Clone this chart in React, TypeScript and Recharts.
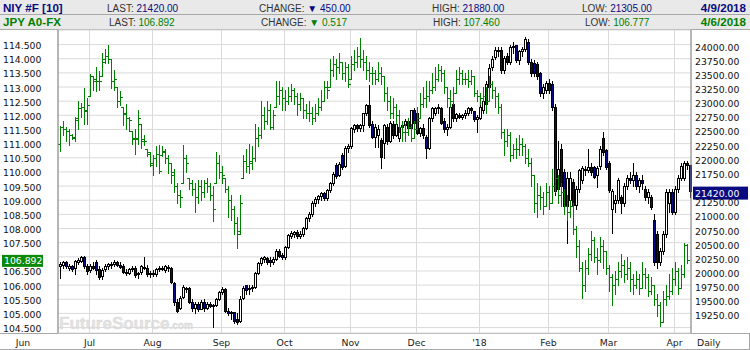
import { ComposedChart, Bar, XAxis, YAxis, CartesianGrid, ReferenceLine } from 'recharts'

// one bar per weekday, starting here
const firstDay = '2017-06-19'

// label under each month start (index = month - 1)
const monthLabels = ["'18", 'Feb', 'Mar', 'Apr', 'May', 'Jun', 'Jul', 'Aug', 'Sep', 'Oct', 'Nov', 'Dec']

const jpyTicks = [104.5, 105, 105.5, 106, 106.5, 107, 107.5, 108, 108.5, 109, 109.5, 110, 110.5, 111, 111.5, 112, 112.5, 113, 113.5, 114, 114.5]
const niyTicks = [19250, 19500, 19750, 20000, 20250, 20500, 20750, 21000, 21250, 21500, 21750, 22000, 22250, 22500, 22750, 23000, 23250, 23500, 23750, 24000]

// the two scales are tied: 0.5 yen == 250 index points
const jpyDomain = [104.308, 115.016]
const niyDomain = [18904, 24258]

const niyQuote = ['21420.00', '450.00', '21880.00', '21305.00', '4/9/2018']
const jpyQuote = ['106.892', '0.517', '107.460', '106.777', '4/6/2018']
const lastNiy = 21420
const lastJpy = 106.892

// JPY A0-FX daily bars: [open, high, low, close]
const jpyOhlc: (number[] | null)[] = [
  [111.0, 111.62, 110.75, 111.6], [111.6, 111.8, 111.3, 111.5], [111.5, 111.6, 111.1, 111.45], [111.45, 111.5, 110.95, 111.3], [111.3, 111.35, 111.15, 111.25],
  [111.2, 111.95, 111.1, 111.85], [111.9, 112.5, 111.5, 112.25], [112.25, 112.45, 111.95, 112.3], [112.3, 112.95, 111.7, 112.15], [112.2, 112.6, 111.7, 112.35],
  [112.7, 113.45, 112.7, 113.4], [113.4, 113.4, 112.9, 113.3], [113.2, 113.7, 112.85, 113.2], [113.2, 113.55, 112.9, 113.2], [113.4, 114.2, 113.4, 114.0],
  [113.9, 114.35, 113.85, 114.1], [114.1, 114.5, 113.85, 114.0], [114.0, 114.0, 112.95, 113.2], [113.2, 113.6, 112.9, 113.3], [113.0, 113.0, 112.3, 112.5],
  [112.5, 112.85, 112.35, 112.65], [112.3, 112.3, 111.65, 112.05], [112.1, 112.4, 111.5, 111.9], [111.9, 111.95, 111.45, 111.85], [111.45, 111.45, 111.0, 111.15],
  [111.2, 111.5, 110.65, 111.15], [111.2, 112.2, 111.0, 111.9], [111.7, 111.7, 110.85, 111.15], [111.1, 111.3, 110.95, 111.1], [110.8, 110.8, 110.55, 110.65],
  [110.7, 110.7, 110.2, 110.25], [110.3, 110.6, 109.9, 110.5], [110.5, 110.9, 110.2, 110.65], [110.65, 110.95, 109.95, 110.05], [110.6, 110.9, 110.55, 110.75],
  [110.7, 110.8, 110.3, 110.5], [110.5, 110.6, 109.95, 110.3], [110.3, 110.3, 109.6, 110.0], [109.9, 110.1, 109.3, 109.5], [109.5, 109.6, 108.9, 109.2],
  [109.2, 109.35, 108.75, 109.1], [109.6, 110.95, 109.6, 110.5], [110.5, 110.6, 110.0, 110.3], [109.8, 109.8, 109.4, 109.6], [109.6, 109.7, 109.2, 109.4],
  [109.4, 109.6, 108.6, 109.1], [109.1, 109.7, 108.9, 109.5], [109.5, 109.7, 109.0, 109.3], [109.3, 109.7, 109.1, 109.6], [109.6, 109.8, 109.3, 109.5],
  [109.5, 109.6, 109.0, 109.2], [109.2, 109.5, 108.25, 108.7], [109.6, 110.7, 109.6, 110.3], [110.3, 110.6, 109.8, 110.0], [110.0, 110.2, 109.6, 109.9],
  [109.8, 109.8, 109.3, 109.4], [109.4, 109.5, 108.4, 109.0], [109.0, 109.2, 108.3, 108.7], [108.7, 108.8, 107.8, 108.2], [108.2, 108.4, 107.3, 107.8],
  [107.9, 109.2, 107.8, 108.9], [109.8, 110.6, 109.8, 110.4], [110.4, 110.8, 110.0, 110.2], [110.2, 111.0, 109.95, 110.4], [110.3, 110.9, 110.1, 110.5],
  [110.5, 111.7, 110.4, 111.2], [111.2, 111.6, 110.9, 111.3], [111.3, 112.5, 111.2, 112.0], [112.0, 112.3, 111.5, 111.8], [111.8, 112.5, 111.7, 112.2],
  [112.2, 112.4, 111.5, 111.6], [111.6, 112.2, 111.5, 112.0], [112.3, 113.2, 112.3, 112.7], [112.7, 113.2, 112.4, 112.9], [112.9, 113.0, 112.2, 112.6],
  [112.6, 112.9, 112.2, 112.5], [112.5, 113.0, 112.4, 112.7], [112.7, 113.1, 112.5, 112.9], [112.9, 112.95, 112.4, 112.7], [112.7, 112.8, 112.0, 112.4],
  [112.4, 112.8, 112.2, 112.6], [112.6, 112.6, 111.9, 112.2], [112.2, 112.4, 111.9, 112.1], [112.1, 112.5, 111.8, 112.1], [112.1, 112.3, 111.7, 111.9],
  [111.9, 112.4, 111.8, 112.1], [112.1, 112.6, 112.0, 112.3], [112.3, 112.9, 112.2, 112.5], [112.5, 113.2, 112.5, 113.0], [113.0, 113.2, 112.6, 112.9],
  [113.0, 114.0, 113.0, 113.6], [113.6, 114.1, 113.4, 113.8], [113.8, 114.0, 113.3, 113.7], [113.7, 114.2, 113.5, 113.9], [113.9, 113.9, 113.3, 113.5],
  [113.5, 113.9, 113.2, 113.7], [113.7, 113.8, 113.0, 113.1], [113.3, 114.1, 113.3, 113.8], [113.8, 114.3, 113.6, 113.9], [113.9, 114.4, 113.7, 114.1],
  [114.1, 114.75, 113.7, 114.0], [114.0, 114.3, 113.6, 113.9], [113.9, 114.1, 113.3, 113.6], [113.6, 113.9, 113.2, 113.5], [113.5, 113.7, 113.1, 113.5],
  [113.5, 113.6, 113.1, 113.3], [113.3, 113.9, 113.2, 113.5], [113.5, 113.7, 113.1, 113.4], [113.4, 113.4, 112.5, 112.8], [112.8, 113.0, 112.2, 112.5],
  [112.5, 112.7, 111.9, 112.1], [112.1, 112.6, 111.9, 112.3], [112.3, 112.4, 111.7, 112.0], [112.0, 112.2, 111.4, 111.6], [111.6, 111.8, 111.1, 111.4],
  [111.4, 111.7, 111.1, 111.4], [111.4, 111.9, 111.3, 111.6], [111.6, 111.7, 111.1, 111.2], [111.2, 111.8, 111.2, 111.5], [111.5, 112.3, 111.5, 111.8],
  [111.9, 112.8, 111.9, 112.4], [112.4, 113.0, 112.3, 112.6], [112.6, 113.2, 112.3, 112.7], [112.7, 113.2, 112.5, 112.9], [112.9, 113.5, 112.8, 113.0],
  [113.0, 113.7, 112.9, 113.3], [113.3, 113.8, 113.2, 113.6], [113.6, 113.75, 113.2, 113.5], [113.5, 113.6, 112.8, 113.0], [113.0, 113.0, 112.3, 112.6],
  [112.6, 112.9, 112.3, 112.5], [112.5, 113.0, 112.4, 112.8], [112.8, 113.6, 112.8, 113.3], [113.3, 113.7, 113.1, 113.5], [113.5, 113.6, 113.1, 113.3],
  [113.3, 113.5, 113.1, 113.3], [113.3, 113.6, 113.0, 113.2], [113.2, 113.6, 113.1, 113.4], [113.4, 113.4, 112.7, 112.8], [112.8, 112.9, 112.5, 112.7],
  [112.7, 112.8, 112.4, 112.6], [112.6, 113.0, 112.5, 112.7], [112.7, 113.0, 112.1, 112.5], [112.5, 113.4, 112.5, 113.1], [113.1, 113.2, 112.6, 112.9],
  [112.9, 113.0, 112.3, 112.7], [112.7, 112.8, 112.1, 112.3], [112.3, 112.4, 111.2, 111.4], [111.4, 111.5, 110.6, 111.1], [111.1, 111.5, 110.9, 111.3],
  [111.3, 111.4, 110.4, 110.6], [110.6, 111.0, 110.5, 110.8], [110.8, 111.2, 110.5, 110.8], [110.8, 111.3, 110.6, 111.0], [111.0, 111.2, 110.6, 110.9],
  [110.9, 111.0, 110.3, 110.5], [110.5, 110.8, 110.2, 110.3], [110.3, 110.5, 109.5, 109.9], [109.9, 109.9, 108.6, 108.9], [108.9, 109.6, 108.4, 109.2],
  [109.2, 109.5, 108.7, 109.1], [109.1, 109.3, 108.5, 108.8], [108.8, 109.6, 108.8, 109.3], [109.3, 109.5, 108.7, 108.9], [108.9, 110.1, 108.9, 109.5],
  [109.5, 110.1, 109.3, 109.8], [109.8, 109.9, 108.9, 109.2], [109.2, 109.6, 108.8, 109.3], [109.3, 109.4, 108.5, 108.8], [108.8, 109.2, 108.3, 108.6],
  [108.6, 109.0, 108.4, 108.8], [108.8, 108.9, 107.8, 108.0], [108.0, 108.1, 107.0, 107.4], [107.4, 107.6, 106.5, 106.6], [106.6, 106.8, 105.55, 106.0],
  [106.0, 106.9, 105.8, 106.6], [106.6, 107.3, 106.4, 107.1], [107.1, 107.9, 106.9, 107.6], [107.6, 107.7, 106.8, 107.0], [107.0, 107.3, 106.4, 106.9],
  [106.9, 107.7, 106.8, 107.4], [107.4, 107.6, 106.6, 107.2], [107.2, 107.2, 106.4, 106.6], [106.6, 106.7, 105.8, 106.3], [106.3, 106.4, 105.3, 106.0],
  [106.0, 106.5, 105.7, 106.2], [106.2, 106.8, 106.0, 106.5], [106.5, 107.1, 106.3, 106.7], [106.7, 106.9, 106.1, 106.4], [106.4, 107.0, 106.2, 106.6],
  [106.6, 106.8, 105.8, 106.2], [106.2, 106.4, 105.7, 106.0], [106.0, 106.5, 105.9, 106.2], [106.2, 106.4, 105.7, 105.9], [105.9, 106.8, 105.9, 106.4],
  [106.4, 106.6, 105.9, 106.3], [106.3, 106.4, 105.6, 105.8], [105.8, 106.3, 105.7, 106.0], [106.0, 106.0, 105.3, 105.5], [105.5, 105.7, 104.9, 105.3],
  [105.3, 105.4, 104.55, 104.7], [104.7, 105.8, 104.7, 105.5], [105.5, 106.0, 105.3, 105.6], [105.6, 106.4, 105.5, 105.8], [105.8, 106.6, 105.7, 106.2],
  [106.2, 106.8, 106.0, 106.5], [106.5, 106.6, 105.7, 105.9], [105.9, 106.7, 105.9, 106.4], [106.4, 107.5, 106.3, 107.41], [107.41, 107.46, 106.777, 106.892],
  null,
]

// NIY #F daily candles: [open, high, low, close]
const niyOhlc: number[][] = [
  [20080, 20150, 19870, 20130], [20100, 20180, 20050, 20150], [20150, 20170, 20050, 20080], [20060, 20120, 20020, 20090], [20080, 20110, 20000, 20040],
  [20050, 20200, 19940, 20180], [20160, 20230, 20120, 20200], [20180, 20260, 20150, 20240], [20240, 20260, 20050, 20080], [20080, 20120, 19950, 20000],
  [20010, 20120, 19980, 20080], [20090, 20150, 20030, 20060], [20150, 20200, 19950, 20020], [20030, 20080, 19850, 19900], [19920, 20050, 19850, 20020],
  [20030, 20120, 20000, 20090], [20080, 20140, 20040, 20120], [20110, 20160, 20060, 20130], [20130, 20200, 20090, 20160], [20150, 20180, 20080, 20110],
  [20110, 20150, 20050, 20070], [20090, 20120, 19960, 19990], [19990, 20030, 19930, 19960], [19970, 20060, 19940, 20040], [20040, 20090, 20000, 20060],
  [20050, 20080, 19900, 19930], [19940, 19990, 19880, 19960], [19980, 20110, 19950, 20080], [20070, 20250, 20040, 20060], [20050, 20100, 19920, 19950],
  [19960, 20000, 19900, 19970], [19970, 20020, 19920, 19940], [19950, 20060, 19920, 20040], [20040, 20080, 20000, 20060], [20050, 20090, 20010, 20030],
  [20020, 20110, 19990, 20080], [20070, 20100, 20000, 20050], [20050, 20070, 19780, 19800], [19780, 19800, 19400, 19450], [19450, 19500, 19270, 19300],
  [19350, 19550, 19330, 19520], [19540, 19750, 19520, 19720], [19700, 19720, 19620, 19680], [19700, 19710, 19430, 19450], [19450, 19500, 19300, 19350],
  [19350, 19450, 19260, 19420], [19420, 19450, 19300, 19330], [19330, 19480, 19320, 19460], [19460, 19500, 19300, 19350], [19350, 19450, 19330, 19420],
  [19420, 19450, 19360, 19380], [19380, 19420, 19010, 19400], [19400, 19520, 19380, 19500], [19500, 19650, 19480, 19620], [19620, 19720, 19600, 19680],
  [19690, 19700, 19280, 19300], [19300, 19340, 19220, 19250], [19250, 19300, 19150, 19270], [19270, 19280, 19080, 19120], [19150, 19250, 19060, 19100],
  [19120, 19550, 19100, 19500], [19520, 19730, 19500, 19700], [19750, 19760, 19600, 19660], [19680, 19760, 19590, 19700], [19700, 19750, 19650, 19720],
  [19720, 19980, 19700, 19960], [19960, 20150, 19940, 20140], [20140, 20250, 20100, 20230], [20220, 20260, 20150, 20240], [20230, 20250, 20130, 20150],
  [20200, 20240, 20080, 20150], [20160, 20250, 20120, 20220], [20220, 20380, 20190, 20360], [20360, 20380, 20250, 20260], [20280, 20320, 20220, 20250],
  [20250, 20450, 20220, 20420], [20420, 20650, 20400, 20630], [20620, 20700, 20580, 20670], [20660, 20700, 20600, 20680], [20690, 20720, 20580, 20610],
  [20610, 20700, 20580, 20660], [20660, 20780, 20620, 20760], [20760, 20950, 20740, 20930], [20930, 21050, 20880, 21000], [21000, 21230, 20980, 21200],
  [21200, 21310, 21150, 21280], [21280, 21350, 21200, 21330], [21330, 21400, 21250, 21380], [21380, 21400, 21250, 21290], [21290, 21450, 21260, 21430],
  [21430, 21580, 21400, 21550], [21550, 21750, 21520, 21720], [21870, 21900, 21650, 21680], [21700, 21920, 21680, 21890], [22050, 22080, 21800, 21840],
  [21850, 22200, 21830, 22180], [22180, 22250, 22100, 22200], [22200, 22550, 22180, 22530], [22500, 22600, 22450, 22580], [22580, 22600, 22480, 22520],
  [22520, 22600, 22480, 22580], [22580, 22800, 22480, 22790], [22790, 22950, 22750, 22930], [22930, 23280, 22550, 22580], [22600, 22650, 22350, 22370],
  [22370, 22600, 22190, 22550], [22400, 22580, 22190, 22500], [22310, 22350, 21820, 22010], [22260, 22600, 22000, 22580], [22550, 22600, 22250, 22290],
  [22300, 22650, 22280, 22620], [22600, 22650, 22350, 22400], [22400, 22650, 22380, 22600], [22350, 22600, 22300, 22550], [22550, 22620, 22450, 22580],
  [22580, 22680, 22520, 22650], [22650, 22700, 22480, 22520], [22520, 22850, 22500, 22840], [22840, 22880, 22580, 22610], [22790, 22820, 22420, 22440],
  [22440, 22550, 22380, 22530], [22530, 22600, 22350, 22400], [22370, 22400, 21990, 22170], [22170, 22720, 22150, 22700], [22700, 22900, 22650, 22880],
  [22800, 22900, 22750, 22880], [22880, 22950, 22800, 22900], [22880, 22900, 22600, 22620], [22650, 22700, 22450, 22500], [22500, 22600, 22400, 22550],
  [22550, 22950, 22520, 22900], [22950, 23000, 22650, 22700], [22700, 22800, 22650, 22780], [22750, 22800, 22700, 22720], [22720, 22780, 22680, 22750],
  [22750, 22850, 22700, 22800], [22800, 22900, 22750, 22880], [22880, 22900, 22800, 22850], [22820, 22830, 22650, 22680], [22680, 22750, 22450, 22720],
  [22700, 22950, 22680, 22900], [22850, 23050, 22800, 23000], [22950, 23350, 22900, 23300], [23250, 23650, 23200, 23580], [23600, 23800, 23550, 23750],
  [23780, 23950, 23750, 23900], [23900, 23960, 23800, 23880], [23900, 23950, 23500, 23550], [23560, 23800, 23500, 23760], [23800, 23850, 23650, 23700],
  [23700, 24000, 23650, 23950], [23950, 24050, 23850, 23980], [23990, 24000, 23700, 23730], [23730, 23900, 23650, 23880], [23880, 23950, 23800, 23920],
  [23920, 24130, 23880, 24100], [24050, 24100, 23650, 23700], [23700, 23750, 23450, 23500], [23680, 23720, 23450, 23500], [23650, 23700, 23400, 23450],
  [23500, 23520, 23100, 23150], [23150, 23300, 23060, 23250], [23200, 23350, 23150, 23320], [23320, 23400, 23150, 23200], [23300, 23350, 22850, 22900],
  [22900, 22950, 21350, 21420], [21450, 22300, 21400, 21800], [22150, 22250, 21450, 21500], [21750, 21800, 21000, 21150], [21150, 21750, 20500, 21650],
  [21250, 21750, 21200, 21650], [21580, 21620, 20870, 21170], [21170, 21500, 21100, 21450], [21450, 21800, 21400, 21780], [21600, 21850, 21550, 21820],
  [21800, 21850, 21700, 21780], [21780, 22150, 21750, 21830], [21830, 21900, 21700, 21750], [21830, 21850, 21640, 21660], [21700, 21850, 21480, 21820],
  [21850, 22200, 21800, 22150], [22350, 22450, 22050, 22100], [22130, 22150, 21800, 21830], [21900, 21950, 21400, 21430], [21100, 21450, 20670, 21420],
  [21200, 21350, 21050, 21250], [21250, 21650, 21200, 21600], [21300, 21350, 21020, 21200], [21200, 21550, 21150, 21500], [21500, 21700, 21450, 21650],
  [21650, 21750, 21550, 21600], [21600, 21910, 21500, 21700], [21700, 21750, 21450, 21500], [21500, 21650, 21400, 21600], [21600, 21700, 21450, 21550],
  [21450, 21500, 21250, 21300], [21300, 21450, 21200, 21400], [21300, 21350, 21100, 21130], [20900, 21000, 20100, 20150], [20650, 20700, 20050, 20150],
  [20150, 20400, 20100, 20350], [20350, 20700, 20300, 20650], [20650, 21450, 20600, 21400], [21200, 21450, 21050, 21400], [21400, 21450, 21000, 21050],
  [21050, 21500, 21000, 21450], [21450, 21700, 21400, 21650], [21650, 21900, 21600, 21850], [21650, 21950, 21600, 21900], [21900, 21950, 21800, 21870],
  [21870, 21880, 21305, 21420],
]

function weekdays(start: string, count: number) {
  const out: string[] = []
  const d = new Date(start + 'T00:00:00Z')
  while (out.length < count) {
    const wd = d.getUTCDay()
    if (wd !== 0 && wd !== 6) out.push(d.toISOString().slice(0, 10))
    d.setUTCDate(d.getUTCDate() + 1)
  }
  return out
}

const dates = weekdays(firstDay, niyOhlc.length)
const rows = dates.map((d, i) => ({ d, jpy: jpyOhlc[i] ?? null, niy: niyOhlc[i] }))
const monthStarts = dates.filter((d, i) => i > 0 && d.slice(5, 7) !== dates[i - 1].slice(5, 7))

const NAVY = '#0a0a80'
const GREEN = '#008000'
const AXIS_FONT = 'DejaVu Sans, Verdana, sans-serif'
const HEAD_FONT = 'Liberation Sans, Arial, sans-serif'

// pixel helpers for a range bar drawn from [low, high]
function barGeometry(props: any, bar: number[]) {
  const top = Math.min(props.y, props.y + props.height)
  const bottom = Math.max(props.y, props.y + props.height)
  const h = bar[1]
  const l = bar[2]
  const py = (v: number) => (h === l ? top : top + ((h - v) / (h - l)) * (bottom - top))
  const px = Math.floor(props.x + props.width / 2)
  return { py, px, top, bottom }
}

const JpyBar = (props: any) => {
  const bar = props.payload?.jpy
  if (!bar) return <g />
  const { py, px, top, bottom } = barGeometry(props, bar)
  const yo = Math.round(py(bar[0])) + 0.5
  const yc = Math.round(py(bar[3])) + 0.5
  return (
    <g stroke={GREEN} strokeWidth={1}>
      <line x1={px + 0.5} x2={px + 0.5} y1={Math.round(top)} y2={Math.round(bottom) + 1} />
      <line x1={px - 2} x2={px + 1} y1={yo} y2={yo} />
      <line x1={px} x2={px + 3} y1={yc} y2={yc} />
    </g>
  )
}

const NiyCandle = (props: any) => {
  const bar = props.payload?.niy
  if (!bar) return <g />
  const { py, px, top, bottom } = barGeometry(props, bar)
  const [o, , , c] = bar
  const yTop = Math.round(py(Math.max(o, c)))
  const yBot = Math.round(py(Math.min(o, c)))
  return (
    <g>
      <line x1={px + 0.5} x2={px + 0.5} y1={Math.round(top)} y2={Math.round(bottom) + 1} stroke="#000" strokeWidth={1} />
      <rect
        x={px - 0.5}
        y={yTop + 0.5}
        width={2}
        height={Math.max(yBot - yTop, 1)}
        fill={c < o ? NAVY : '#fff'}
        stroke="#000"
        strokeWidth={1}
      />
    </g>
  )
}

const JpyTick = ({ y, payload }: any) =>
  Math.abs(payload.value - lastJpy) < 0.3 ? <g /> : (
    <text x={3} y={y + 4.5} fontSize={9.3} fontFamily={AXIS_FONT} fill="#111">
      {payload.value.toFixed(3)}
    </text>
  )

const NiyTick = ({ y, payload }: any) =>
  Math.abs(payload.value - lastNiy) < 150 ? <g /> : (
    <text x={695} y={y + 6} fontSize={9.3} fontFamily={AXIS_FONT} fill="#111">
      {payload.value.toFixed(2)}
    </text>
  )

const MonthTick = ({ x, payload }: any) => (
  <text x={x} y={346} textAnchor="middle" fontSize={9.3} fontFamily={AXIS_FONT} fill="#222">
    {monthLabels[Number(String(payload.value).slice(5, 7)) - 1]}
  </text>
)

const JpyTag = ({ viewBox }: any) => {
  if (!viewBox) return null
  const y = viewBox.y
  return (
    <g>
      <rect x={2} y={y - 5} width={41} height={12} fill="#0a8a0a" />
      <text x={4} y={y + 4.5} fontSize={9.3} fontFamily={AXIS_FONT} fill="#fff">{jpyQuote[0]}</text>
    </g>
  )
}

const NiyTag = ({ viewBox }: any) => {
  if (!viewBox) return null
  const y = viewBox.y
  const x = viewBox.x + viewBox.width
  return (
    <g>
      <rect x={x + 2} y={y - 4} width={55} height={13} fill={NAVY} />
      <text x={x + 4} y={y + 6} fontSize={9.3} fontFamily={AXIS_FONT} fill="#fff">{niyQuote[0]}</text>
    </g>
  )
}

function QuoteRow({ y, title, quote, color, xs }: { y: number; title: string; quote: string[]; color: string; xs: number[] }) {
  const lbl = { fill: '#333' }
  return (
    <g fontFamily={HEAD_FONT} fontSize={10}>
      <text x={3} y={y} fontWeight="bold" fontSize={11.6} fill={color}>{title}</text>
      <text x={xs[0]} y={y}><tspan {...lbl}>LAST: </tspan><tspan fill={color}>{quote[0]}</tspan></text>
      <text x={xs[1]} y={y}><tspan {...lbl}>CHANGE: </tspan><tspan fill={color}>{'\u25BC ' + quote[1]}</tspan></text>
      <text x={xs[2]} y={y}><tspan {...lbl}>HIGH: </tspan><tspan fill={color}>{quote[2]}</tspan></text>
      <text x={xs[3]} y={y}><tspan {...lbl}>LOW: </tspan><tspan fill={color}>{quote[3]}</tspan></text>
      <text x={746} y={y} textAnchor="end" fontWeight="bold" fontSize={11.6} fill={color}>{quote[4]}</text>
    </g>
  )
}

export default function App() {
  return (
    <div style={{ position: 'absolute', left: 0, top: 0, width: 750, height: 350, background: '#fff', overflow: 'hidden' }}>
      <svg width={750} height={350} style={{ position: 'absolute', left: 0, top: 0 }}>
        <rect x={0} y={0} width={750} height={14} fill="#e9e9e9" />
        <rect x={0} y={15} width={750} height={14} fill="#e9e9e9" />
        <line x1={0} x2={750} y1={14.5} y2={14.5} stroke="#a8a8a8" />
        <line x1={0} x2={750} y1={29.5} y2={29.5} stroke="#a8a8a8" />
        <QuoteRow y={11.5} title="NIY #F [10]" quote={niyQuote} color={NAVY} xs={[107, 259, 432, 582]} />
        <QuoteRow y={26} title="JPY A0-FX" quote={jpyQuote} color={GREEN} xs={[109, 261, 433, 585]} />
        <text x={59} y={329} fontFamily={HEAD_FONT} fontWeight="bold" fontSize={17} fill="#e2e2e2" stroke="#d8d8d8" strokeWidth={0.4}>
          FutureSource<tspan fontSize={10}>.com</tspan>
        </text>
        <line x1={0} x2={750} y1={333.5} y2={333.5} stroke="#a8a8a8" />
        <line x1={0} x2={750} y1={349.5} y2={349.5} stroke="#a8a8a8" />
        <line x1={749.5} x2={749.5} y1={333} y2={350} stroke="#a8a8a8" />
        <text x={23} y={346} textAnchor="middle" fontSize={9.3} fontFamily={AXIS_FONT} fill="#222">Jun</text>
        <text x={697} y={346} fontSize={9.3} fontFamily={AXIS_FONT} fill="#222">Daily</text>
      </svg>
      <div style={{ position: 'absolute', left: 0, top: 0 }}>
        <ComposedChart
          width={750}
          height={350}
          data={rows}
          margin={{ top: 30, right: 0, bottom: 0, left: 0 }}
          barGap={-2}
          barCategoryGap={0}
        >
          <CartesianGrid yAxisId="jpy" stroke="#dadada" />
          <XAxis
            dataKey="d"
            type="category"
            ticks={monthStarts}
            interval={0}
            tick={MonthTick}
            axisLine={false}
            tickLine={false}
            height={17}
          />
          <YAxis
            yAxisId="jpy"
            orientation="left"
            width={58}
            type="number"
            domain={jpyDomain}
            allowDataOverflow
            ticks={jpyTicks}
            interval={0}
            tick={JpyTick}
            tickLine={false}
            axisLine={{ stroke: '#808080' }}
          />
          <YAxis
            yAxisId="niy"
            orientation="right"
            width={59}
            type="number"
            domain={niyDomain}
            allowDataOverflow
            ticks={niyTicks}
            interval={0}
            tick={NiyTick}
            tickLine={false}
            axisLine={{ stroke: '#808080' }}
          />
          <Bar
            yAxisId="niy"
            dataKey={(r: any) => [r.niy[2], r.niy[1]]}
            shape={NiyCandle}
            barSize={2}
            isAnimationActive={false}
          />
          <Bar
            yAxisId="jpy"
            dataKey={(r: any) => (r.jpy ? [r.jpy[2], r.jpy[1]] : null)}
            shape={JpyBar}
            barSize={2}
            isAnimationActive={false}
          />
          <ReferenceLine yAxisId="jpy" y={lastJpy} stroke="none" label={<JpyTag />} />
          <ReferenceLine yAxisId="niy" y={lastNiy} stroke="none" label={<NiyTag />} />
        </ComposedChart>
      </div>
    </div>
  )
}
